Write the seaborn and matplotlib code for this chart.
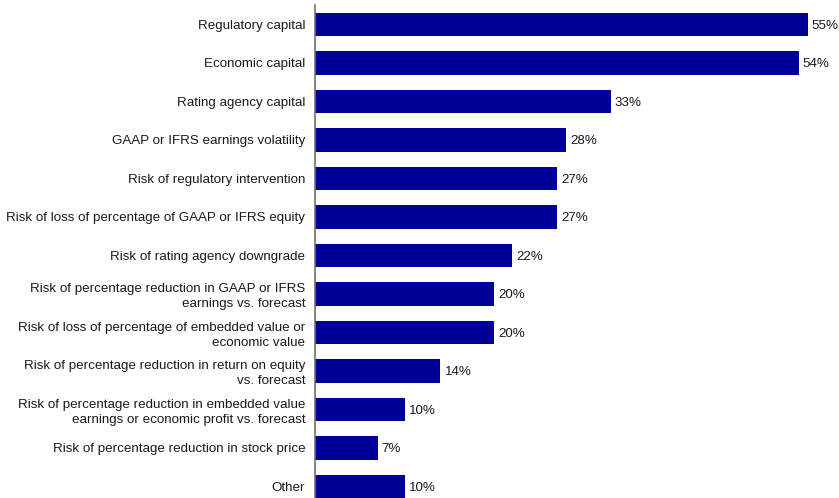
import matplotlib
matplotlib.use("Agg")
import matplotlib.pyplot as plt
import seaborn as sns
import pandas as pd

categories = [
    "Regulatory capital",
    "Economic capital",
    "Rating agency capital",
    "GAAP or IFRS earnings volatility",
    "Risk of regulatory intervention",
    "Risk of loss of percentage of GAAP or IFRS equity",
    "Risk of rating agency downgrade",
    "Risk of percentage reduction in GAAP or IFRS\nearnings vs. forecast",
    "Risk of loss of percentage of embedded value or\neconomic value",
    "Risk of percentage reduction in return on equity\nvs. forecast",
    "Risk of percentage reduction in embedded value\nearnings or economic profit vs. forecast",
    "Risk of percentage reduction in stock price",
    "Other",
]
values = [55, 54, 33, 28, 27, 27, 22, 20, 20, 14, 10, 7, 10]

df = pd.DataFrame({"category": categories, "value": values})

sns.set_theme(style="white")
plt.rcParams["font.family"] = ["Liberation Sans", "DejaVu Sans"]

fig = plt.figure(figsize=(8.39, 4.98), dpi=100)
ax = fig.add_axes([315 / 839, 0.0, 524 / 839, 1 - 5.25 / 498])

bar_color = "#000099"
sns.barplot(data=df, x="value", y="category", orient="h", color=bar_color,
            saturation=1, width=0.6, ax=ax, edgecolor="none")

for i, v in enumerate(values):
    ax.text(v + 0.45, i + 0.03, f"{v}%", va="center", ha="left", fontsize=9.6,
            color="#1a1a1a")

ax.set_xlim(0, 524 / 8.96)
ax.set_ylim(12.3, -0.5)
ax.set_xlabel("")
ax.set_ylabel("")
ax.set_xticks([])
ax.tick_params(axis="y", length=0, pad=7, labelsize=9.6, labelcolor="#1a1a1a")
for lbl in ax.get_yticklabels():
    lbl.set_horizontalalignment("right")
    lbl.set_multialignment("right")
    lbl.set_linespacing(1.3)

for side in ["top", "right", "bottom"]:
    ax.spines[side].set_visible(False)
ax.spines["left"].set_color("#707070")
ax.spines["left"].set_linewidth(1.2)

fig.savefig("out.png", dpi=100)
